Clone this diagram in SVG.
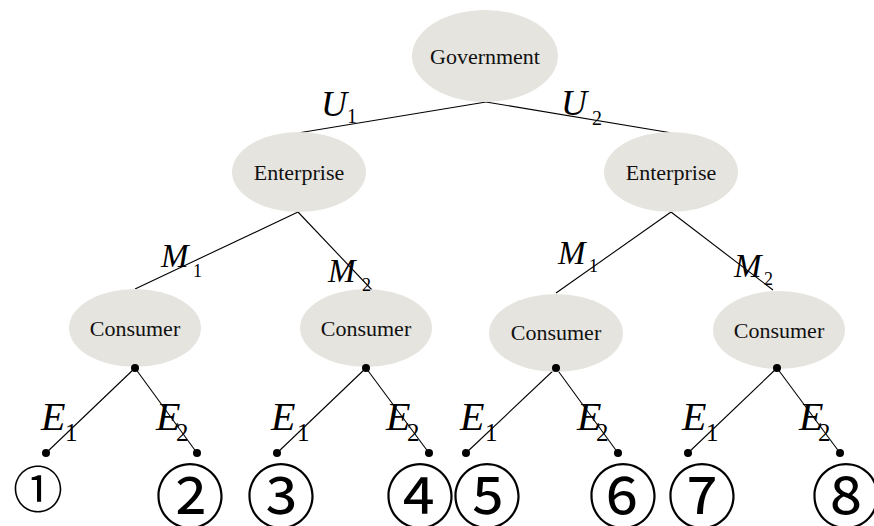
<svg xmlns="http://www.w3.org/2000/svg" width="874" height="526" viewBox="0 0 874 526">
<style>
.node{fill:#e6e4df;stroke:none}
.nt{font-family:"Liberation Serif","Times New Roman",serif;font-size:22px;fill:#111;text-anchor:middle}
.edge{stroke:#000;stroke-width:1.1;fill:none}
.dot{fill:#000}
.lab{font-family:"Liberation Serif","Times New Roman",serif;font-style:italic;fill:#000}
.sub{font-family:"Liberation Serif","Times New Roman",serif;font-style:normal;fill:#000}
.cn{font-family:"Noto Sans CJK SC","DejaVu Sans",sans-serif;font-size:70px;fill:#000;text-anchor:middle}
.cn1{font-family:"Noto Sans CJK SC","DejaVu Sans",sans-serif;font-size:50px;fill:#000;text-anchor:middle}
</style>
<rect width="874" height="526" fill="#fff"/>
<g id="connectors">
<line class="edge" x1="486" y1="102" x2="298" y2="133"/>
<line class="edge" x1="486" y1="102" x2="672" y2="133"/>
<line class="edge" x1="298" y1="212" x2="135" y2="289"/>
<line class="edge" x1="298" y1="212" x2="372" y2="290"/>
<line class="edge" x1="671" y1="212" x2="556" y2="293"/>
<line class="edge" x1="671" y1="212" x2="773" y2="290"/>
<line class="edge" x1="135" y1="368" x2="46" y2="453"/>
<line class="edge" x1="135" y1="368" x2="197" y2="453"/>
<line class="edge" x1="366" y1="368" x2="277" y2="453"/>
<line class="edge" x1="366" y1="368" x2="429" y2="453"/>
<line class="edge" x1="556" y1="368" x2="466" y2="453"/>
<line class="edge" x1="556" y1="368" x2="618" y2="453"/>
<line class="edge" x1="777" y1="368" x2="688" y2="453"/>
<line class="edge" x1="777" y1="368" x2="840" y2="453"/>
<circle class="dot" cx="46" cy="453" r="4"/>
<circle class="dot" cx="197" cy="453" r="4"/>
<circle class="dot" cx="277" cy="453" r="4"/>
<circle class="dot" cx="429" cy="453" r="4"/>
<circle class="dot" cx="466" cy="453" r="4"/>
<circle class="dot" cx="618" cy="453" r="4"/>
<circle class="dot" cx="688" cy="453" r="4"/>
<circle class="dot" cx="840" cy="453" r="4"/>
</g>
<g id="government"><ellipse class="node" cx="485" cy="56" rx="73" ry="46"/><text class="nt" x="485" y="64">Government</text></g>
<g id="enterprise1"><ellipse class="node" cx="299" cy="172" rx="67" ry="40"/><text class="nt" x="299" y="180">Enterprise</text></g>
<g id="enterprise2"><ellipse class="node" cx="671" cy="172" rx="67" ry="40"/><text class="nt" x="671" y="180">Enterprise</text></g>
<g id="consumer1"><ellipse class="node" cx="135" cy="328" rx="66" ry="39"/><text class="nt" x="135" y="336">Consumer</text><circle class="dot" cx="135" cy="368" r="4"/></g>
<g id="consumer2"><ellipse class="node" cx="366" cy="328" rx="66" ry="39"/><text class="nt" x="366" y="336">Consumer</text><circle class="dot" cx="366" cy="368" r="4"/></g>
<g id="consumer3"><ellipse class="node" cx="556" cy="333" rx="67" ry="39"/><text class="nt" x="556" y="340">Consumer</text><circle class="dot" cx="556" cy="368" r="4"/></g>
<g id="consumer4"><ellipse class="node" cx="779" cy="330" rx="66" ry="39"/><text class="nt" x="779" y="338">Consumer</text><circle class="dot" cx="777" cy="368" r="4"/></g>
<g id="labels">
<text class="lab" x="321" y="116" font-size="36">U</text><text class="sub" x="347" y="123" font-size="20">1</text>
<text class="lab" x="561" y="115" font-size="36">U</text><text class="sub" x="592" y="125" font-size="20">2</text>
<text class="lab" x="161" y="267" font-size="33">M</text><text class="sub" x="193" y="277" font-size="18">1</text>
<text class="lab" x="328" y="282" font-size="33">M</text><text class="sub" x="362" y="291" font-size="18">2</text>
<text class="lab" x="558" y="264" font-size="33">M</text><text class="sub" x="589" y="272" font-size="18">1</text>
<text class="lab" x="734" y="277" font-size="33">M</text><text class="sub" x="764" y="285" font-size="18">2</text>
<text class="lab" x="41" y="430" font-size="40">E</text><text class="sub" x="65" y="441" font-size="25">1</text>
<text class="lab" x="156" y="430" font-size="40">E</text><text class="sub" x="176" y="441" font-size="25">2</text>
<text class="lab" x="271" y="430" font-size="40">E</text><text class="sub" x="297" y="441" font-size="25">1</text>
<text class="lab" x="386" y="430" font-size="40">E</text><text class="sub" x="407" y="441" font-size="25">2</text>
<text class="lab" x="460" y="430" font-size="40">E</text><text class="sub" x="485" y="441" font-size="25">1</text>
<text class="lab" x="577" y="430" font-size="40">E</text><text class="sub" x="596" y="441" font-size="25">2</text>
<text class="lab" x="682" y="430" font-size="40">E</text><text class="sub" x="706" y="441" font-size="25">1</text>
<text class="lab" x="799" y="430" font-size="40">E</text><text class="sub" x="818" y="441" font-size="25">2</text>
</g>
<g id="outcomes">
<text class="cn1" x="38" y="508">①</text>
<text class="cn" x="190" y="523">②</text>
<text class="cn" x="281" y="523">③</text>
<text class="cn" x="420" y="523">④</text>
<text class="cn" x="487" y="523">⑤</text>
<text class="cn" x="623" y="523">⑥</text>
<text class="cn" x="702" y="523">⑦</text>
<text class="cn" x="846" y="523">⑧</text>
</g>
</svg>
